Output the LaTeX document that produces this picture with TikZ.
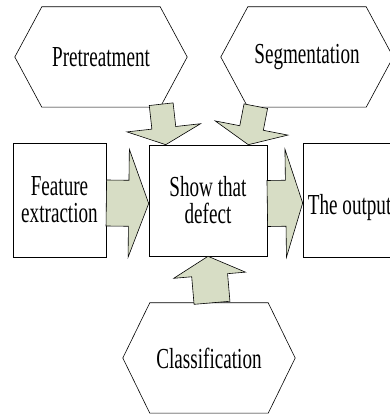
\documentclass[tikz,border=0pt]{standalone}
\usepackage{fontspec}
\setmainfont{Liberation Serif}[FakeStretch=0.66]
\usetikzlibrary{calc}

\definecolor{arrowgreen}{RGB}{215,221,197}

\tikzset{
    box/.style={draw, line width=0.6pt, align=center, inner sep=0pt},
    hexbase/.style={inner sep=0pt, minimum width=172pt},
    hexline/.style={line width=0.6pt},
    blockarr/.style={draw, fill=arrowgreen, line width=0.6pt, line join=miter}
}

% block arrow: tail, tip, half shaft width, half head width, head length
\newcommand{\blockarrow}[5]{%
    \coordinate (hb) at ($(#2)!#5!(#1)$);
    \draw[blockarr] ($(#1)!#3!90:(#2)$) -- ($(hb)!#3!90:(#2)$) -- ($(hb)!#4!90:(#2)$)
        -- (#2) -- ($(hb)!#4!-90:(#2)$) -- ($(hb)!#3!-90:(#2)$) -- ($(#1)!#3!-90:(#2)$) -- cycle;
}

\begin{document}
\begin{tikzpicture}[x=1pt, y=1pt, font=\fontsize{29pt}{27pt}\selectfont]
    \useasboundingbox (0,0) rectangle (389,415);

    % Hexagons
    \node[hexbase, minimum height=100pt] (pre) at (101,358) {Pretreatment};
    \node[hexbase, minimum height=100pt] (seg) at (307,358) {Segmentation};
    \node[hexbase, minimum height=110pt] (cls) at (209,57) {Classification};
    \foreach \h in {pre,seg,cls}
        \draw[hexline] ([xshift=27pt]\h.north west) -- ([xshift=-27pt]\h.north east) -- (\h.east)
            -- ([xshift=-27pt]\h.south east) -- ([xshift=27pt]\h.south west) -- (\h.west) -- cycle;

    % Boxes
    \node[box, minimum width=93pt, minimum height=114pt] (feat) at (59.5,215) {Feature\\extraction};
    \node[box, minimum width=118pt, minimum height=111pt] (show) at (208,214.5) {Show that\\defect};
    \node[box, minimum width=93pt, minimum height=114pt] (out) at (349.5,215) {};
    \node[anchor=base west, inner sep=0pt] (outtext) at ([xshift=5pt,yshift=-15pt]out.west) {The output};

    % Arrow ends
    \coordinate (f1) at ([yshift=-3pt]feat.east);
    \coordinate (s1) at ([yshift=-3pt]show.west);
    \coordinate (s2) at ([yshift=-3pt]show.east);
    \coordinate (o1) at ([yshift=-3pt]out.west);
    \coordinate (p1) at ([xshift=-26pt,yshift=3pt]pre.south east);
    \coordinate (s3) at ([xshift=17pt]show.north west);
    \coordinate (g1) at ([xshift=35pt,yshift=1pt]seg.south west);
    \coordinate (s4) at ([xshift=-19pt]show.north east);
    \coordinate (c1) at ([xshift=3pt]cls.north);

    % Block arrows
    \blockarrow{f1}{s1}{23pt}{54pt}{20pt}
    \blockarrow{s2}{o1}{23pt}{54pt}{17pt}
    \blockarrow{p1}{s3}{12pt}{37pt}{17pt}
    \blockarrow{g1}{s4}{12pt}{37pt}{17pt}
    \blockarrow{c1}{show.south}{18pt}{36pt}{19pt}
\end{tikzpicture}
\end{document}
